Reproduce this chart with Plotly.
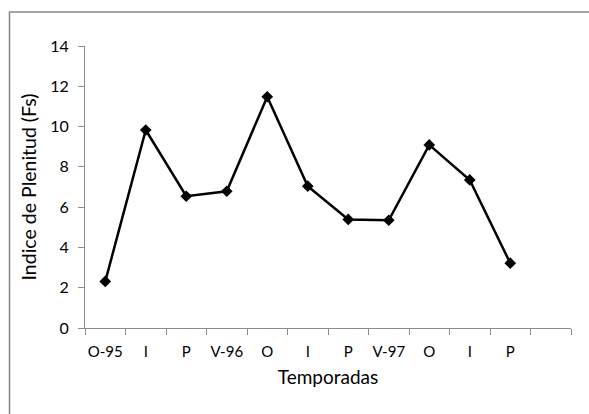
import plotly.graph_objects as go

labels = ["O-95", "I", "P", "V-96", "O", "I", "P", "V-97", "O", "I", "P", ""]
values = [2.31, 9.83, 6.54, 6.79, 11.48, 7.04, 5.39, 5.35, 9.09, 7.35, 3.22]

xs = list(range(len(values)))
font_family = "Lato, 'Open Sans', sans-serif"
axis_gray = "#8c8c8c"

fig = go.Figure()
fig.add_trace(go.Scatter(
    x=xs, y=values, mode="lines+markers",
    line=dict(color="#000000", width=2.5),
    marker=dict(symbol="diamond", size=9, color="#000000"),
    showlegend=False, cliponaxis=False,
))

L, R, T, B = 85, 18, 46, 86
W, H = 589, 414
pw, ph = W - L - R, H - T - B

fig.update_layout(
    width=W, height=H,
    margin=dict(l=L, r=R, t=T, b=B, pad=0),
    paper_bgcolor="white", plot_bgcolor="white",
    font=dict(family=font_family, color="#000000"),
    xaxis=dict(
        range=[-0.5, len(labels) - 0.5],
        tickmode="array", tickvals=list(range(len(labels))), ticktext=labels,
        ticks="", showgrid=False, zeroline=False,
        showline=True, linecolor=axis_gray, linewidth=1,
        tickfont=dict(size=15, color="#000000"),
        ticklabelstandoff=10,
        minor=dict(tickmode="linear", tick0=-0.5, dtick=1, ticks="outside",
                   ticklen=6, tickcolor=axis_gray, tickwidth=1, showgrid=False),
        title=dict(text="Temporadas", font=dict(size=19), standoff=11),
    ),
    yaxis=dict(
        range=[0, 14], dtick=2, tick0=0,
        ticks="outside", ticklen=6, tickcolor=axis_gray, tickwidth=1,
        ticklabelstandoff=6,
        showgrid=False, zeroline=False,
        showline=True, linecolor=axis_gray, linewidth=1,
        tickfont=dict(size=16, color="#000000"),
        title=dict(text="Indice de Plenitud (Fs)", font=dict(size=19.5), standoff=8),
    ),
)

# outer chart-area border (extends beyond the window on right and bottom)
fig.add_shape(
    type="rect", xref="paper", yref="paper",
    x0=(9.5 - L) / pw, x1=(W + 10 - L) / pw,
    y0=(ph + T - (H + 10)) / ph, y1=(ph + T - 12) / ph,
    line=dict(color="#868686", width=1.5), fillcolor="rgba(0,0,0,0)", layer="below",
)

fig.write_html(
    "out.html",
    config={"displayModeBar": False},
    post_script="document.body.style.margin='0';document.body.style.overflow='hidden';",
)
